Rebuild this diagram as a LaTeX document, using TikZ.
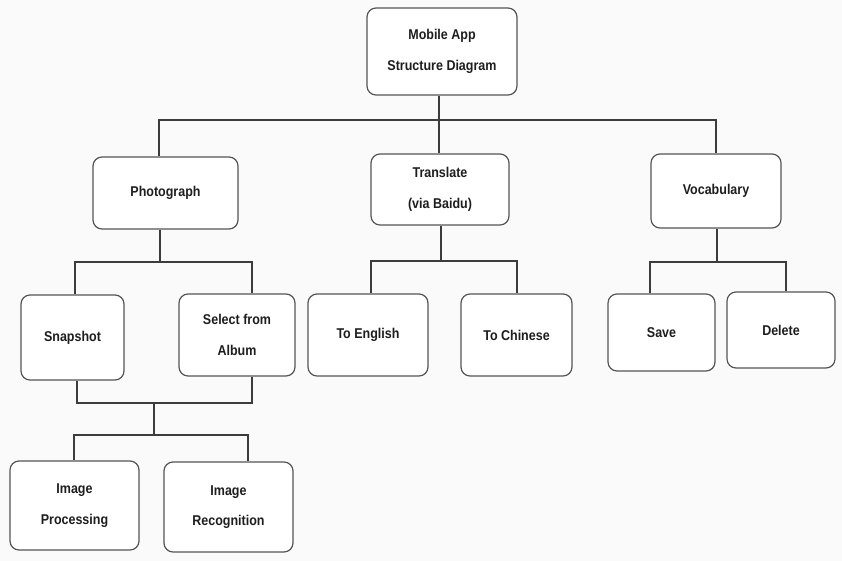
\documentclass[tikz,border=0pt]{standalone}
\usepackage{fontspec}
\setmainfont[FakeStretch=0.88]{Liberation Sans}
\definecolor{bgcol}{HTML}{FAFAFA}
\definecolor{boxgray}{HTML}{555555}
\definecolor{linegray}{HTML}{3C3C3C}
\definecolor{txtcol}{HTML}{1E1E1E}
\begin{document}
\begin{tikzpicture}[x=1pt,y=-1pt,
  box/.style={draw=boxgray, line width=1.2pt, rounded corners=9pt, fill=white,
    align=center, inner sep=0pt, text=txtcol,
    font=\bfseries\fontsize{14.2}{30.5}\selectfont},
  conn/.style={draw=linegray, line width=1.1pt}]
\fill[bgcol] (0,0) rectangle (842,561);
\useasboundingbox (0,0) rectangle (842,561);
% nodes
\node[box, minimum width=150pt, minimum height=87pt] (root) at (442,51.5) {Mobile App\\Structure Diagram};
\node[box, minimum width=145pt, minimum height=72pt] (photo) at (165.5,193) {Photograph};
\node[box, minimum width=138pt, minimum height=71pt] (trans) at (440,189.5) {Translate\\(via Baidu)};
\node[box, minimum width=130pt, minimum height=74pt] (vocab) at (716,191) {Vocabulary};
\node[box, minimum width=103pt, minimum height=85pt] (snap) at (72.5,337.5) {Snapshot};
\node[box, minimum width=116pt, minimum height=82pt] (album) at (237,335) {Select from\\Album};
\node[box, minimum width=120pt, minimum height=82pt] (eng) at (368,335) {To English};
\node[box, minimum width=111pt, minimum height=82pt] (chin) at (516.5,335) {To Chinese};
\node[box, minimum width=107pt, minimum height=77pt] (save) at (661.5,332.5) {Save};
\node[box, minimum width=108pt, minimum height=76pt] (del) at (781,330) {Delete};
\node[box, minimum width=129pt, minimum height=89pt] (proc) at (74.5,505.5) {Image\\Processing};
\node[box, minimum width=129pt, minimum height=90pt] (recog) at (228.5,507) {Image\\Recognition};
% junction coordinates
\coordinate (r1) at (439,120); \coordinate (rL) at (159,120); \coordinate (rR) at (716,120);
\coordinate (p1) at (160,262); \coordinate (pL) at (75,262); \coordinate (pR) at (252,262);
\coordinate (mL) at (77,403); \coordinate (mR) at (252,403);
\coordinate (m1) at (154,403); \coordinate (m2) at (154,435);
\coordinate (iL) at (74,435); \coordinate (iR) at (248,435);
\coordinate (t1) at (441,261); \coordinate (tL) at (371,261); \coordinate (tR) at (517,261);
\coordinate (v1) at (717,262); \coordinate (vL) at (650,262); \coordinate (vR) at (786,262);
% connectors
\draw[conn] (root.south -| r1) -- (r1);
\draw[conn] (photo.north -| rL) -- (rL) -- (rR) -- (vocab.north -| rR);
\draw[conn] (r1) -- (trans.north -| r1);
\draw[conn] (photo.south -| p1) -- (p1);
\draw[conn] (snap.north -| pL) -- (pL) -- (pR) -- (album.north -| pR);
\draw[conn] (snap.south -| mL) -- (mL) -- (mR) -- (album.south -| mR);
\draw[conn] (m1) -- (m2);
\draw[conn] (proc.north -| iL) -- (iL) -- (iR) -- (recog.north -| iR);
\draw[conn] (trans.south -| t1) -- (t1);
\draw[conn] (eng.north -| tL) -- (tL) -- (tR) -- (chin.north -| tR);
\draw[conn] (vocab.south -| v1) -- (v1);
\draw[conn] (save.north -| vL) -- (vL) -- (vR) -- (del.north -| vR);
\end{tikzpicture}
\end{document}
